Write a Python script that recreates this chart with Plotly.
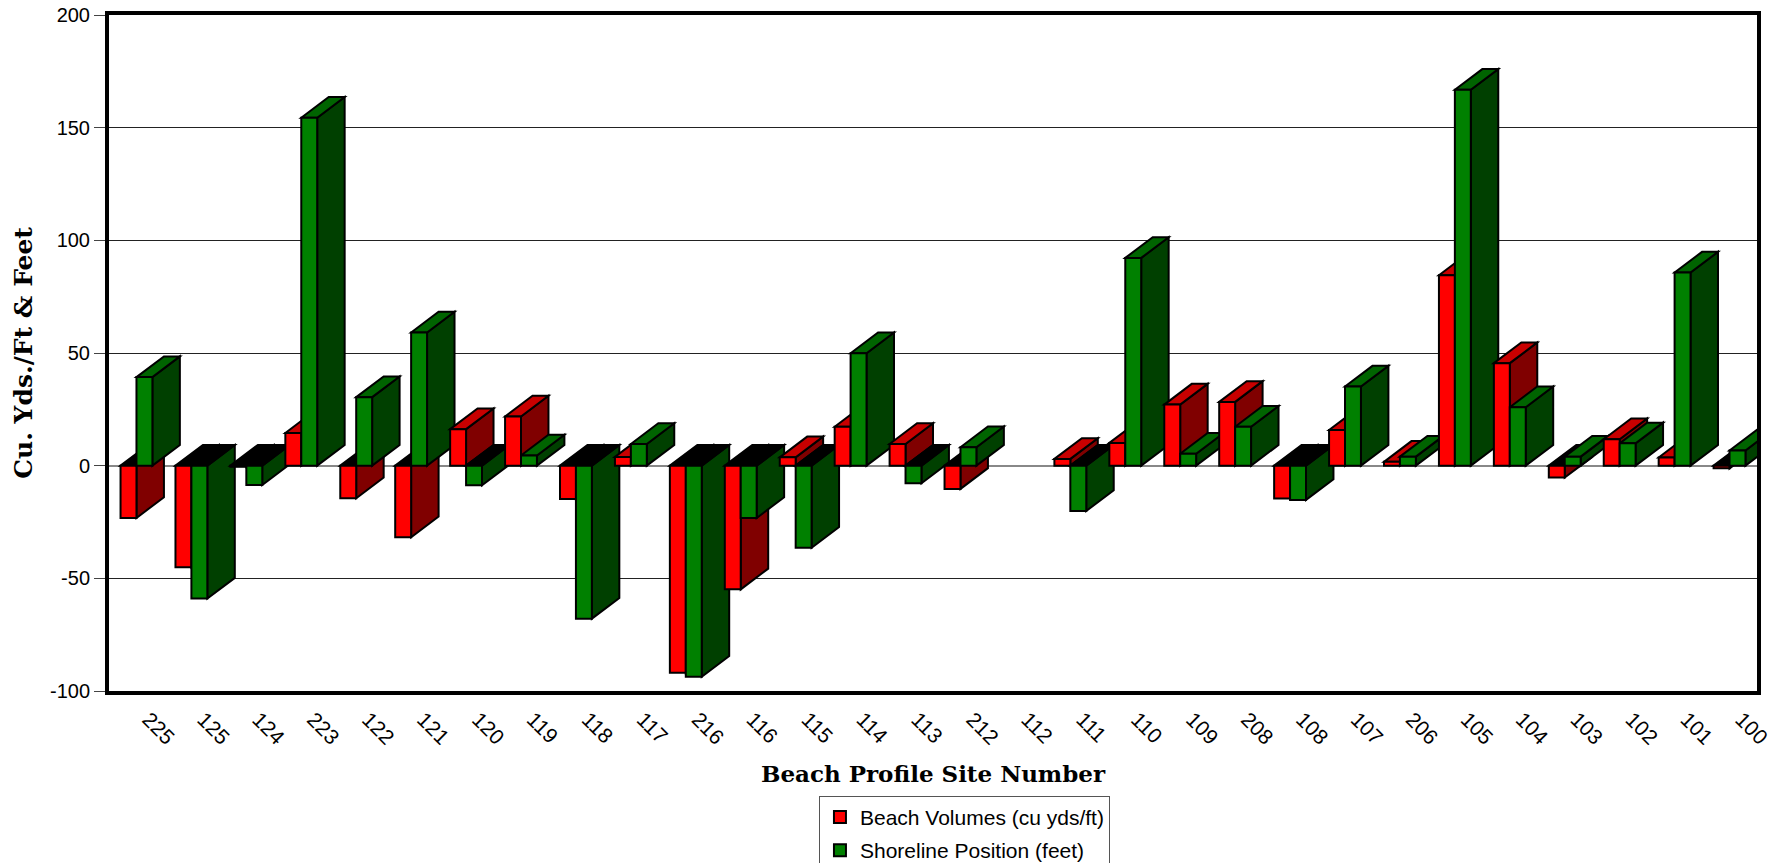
import plotly.graph_objects as go

# ---------------- data ----------------
sites = ["225", "125", "124", "223", "122", "121", "120", "119", "118", "117",
         "216", "116", "115", "114", "113", "212", "112", "111", "110", "109",
         "208", "108", "107", "206", "105", "104", "103", "102", "101", "100"]

beach_volumes = [-23.2, -45.1, -0.5, 14.5, -14.5, -31.8, 16.2, 21.8, -14.8, 3.9,
                 -91.9, -54.9, 3.7, 17.3, 9.6, -10.3, None, 3.0, 10.1, 27.1,
                 28.3, -14.6, 15.8, 1.7, 84.5, 45.5, -5.3, 11.7, 3.6, -1.2]

shoreline = [39.3, -59.0, -8.6, 154.4, 30.4, 59.1, -8.7, 4.5, -67.9, 9.6,
             -93.7, -23.2, -36.4, 49.9, -7.8, 8.2, None, -20.1, 92.2, 5.3,
             17.3, -15.2, 35.1, 4.0, 166.8, 25.9, 4.0, 9.9, 85.7, 6.7]

y_tick_values = [-100, -50, 0, 50, 100, 150, 200]
y_tick_labels = ["-100", "-50", "0", "50", "100", "150", "200"]

series = [
    dict(name="Beach Volumes (cu yds/ft)", values=beach_volumes,
         front="#FF0000", side="#800000", top="#C80000", offset=-0.29),
    dict(name="Shoreline Position (feet)", values=shoreline,
         front="#008000", side="#004000", top="#006400", offset=0.0),
]

BAR_W = 0.29       # bar width in category units
DEPTH_X = 0.50     # 3-D depth offset (category units)
DEPTH_Y = 9.2      # 3-D depth offset (value units)
positions = list(range(len(sites)))

fig = go.Figure()

for k, s in enumerate(series):
    fig.add_trace(go.Bar(
        x=positions, y=s["values"], name=s["name"],
        offset=s["offset"], width=BAR_W,
        marker=dict(color=s["front"], line=dict(color="black", width=2)),
        legendgroup=f"g{k}",
    ))

# 3-D side and top faces, derived from the data values (painter's order)
shapes = []
for i, pos in enumerate(positions):
    for s in series:
        v = s["values"][i]
        if v is None:
            continue
        x0 = pos + s["offset"]
        x1 = x0 + BAR_W
        side = (f"M {x1},0 L {x1 + DEPTH_X},{DEPTH_Y} "
                f"L {x1 + DEPTH_X},{v + DEPTH_Y} L {x1},{v} Z")
        shapes.append(dict(type="path", path=side, xref="x", yref="y",
                           fillcolor=s["side"], line=dict(color="black", width=2),
                           layer="between"))
        ty = v if v >= 0 else 0
        tcol = s["top"] if v >= 0 else "black"
        top = (f"M {x0},{ty} L {x0 + DEPTH_X},{ty + DEPTH_Y} "
               f"L {x1 + DEPTH_X},{ty + DEPTH_Y} L {x1},{ty} Z")
        shapes.append(dict(type="path", path=top, xref="x", yref="y",
                           fillcolor=tcol, line=dict(color="black", width=2),
                           layer="between"))

fig.update_layout(
    width=1781, height=863,
    margin=dict(l=109, r=24, t=15, b=172, autoexpand=False),
    paper_bgcolor="white", plot_bgcolor="white",
    barmode="overlay",
    shapes=shapes,
    showlegend=True,
    legend=dict(
        x=0.4308, y=-0.155, xanchor="left", yanchor="top",
        font=dict(family="Liberation Sans, Arial", size=21, color="black"),
        bordercolor="#555555", borderwidth=1, bgcolor="white",
        traceorder="grouped", tracegroupgap=3,
    ),
    xaxis=dict(
        range=[-0.5, len(sites) - 0.5], automargin=False,
        tickmode="array", tickvals=positions, ticktext=sites,
        tickangle=45, ticklabelstandoff=4, ticklabelshift=12,
        tickfont=dict(family="Liberation Sans, Arial", size=21, color="black"),
        showgrid=False, zeroline=False,
        showline=True, linecolor="black", linewidth=4, mirror=True,
        ticks="",
        title=dict(text="Beach Profile Site Number", standoff=19,
                   font=dict(family="DejaVu Serif", size=23, color="black",
                             weight="bold")),
    ),
    yaxis=dict(
        range=[-100, 200], automargin=False,
        tickmode="array", tickvals=y_tick_values, ticktext=y_tick_labels,
        tickfont=dict(family="Liberation Sans, Arial", size=20, color="black"),
        showgrid=True, gridcolor="#222222", gridwidth=1,
        zeroline=True, zerolinecolor="#888888", zerolinewidth=1.5,
        showline=True, linecolor="black", linewidth=4, mirror=True,
        ticks="outside", ticklen=11, tickcolor="#444444", tickwidth=1,
        title=dict(text="Cu. Yds./Ft & Feet", standoff=11,
                   font=dict(family="DejaVu Serif", size=25, color="black",
                             weight="bold")),
    ),
)

fig.write_html("out.html", config={"displayModeBar": False},
               post_script="document.body.style.margin='0';")
